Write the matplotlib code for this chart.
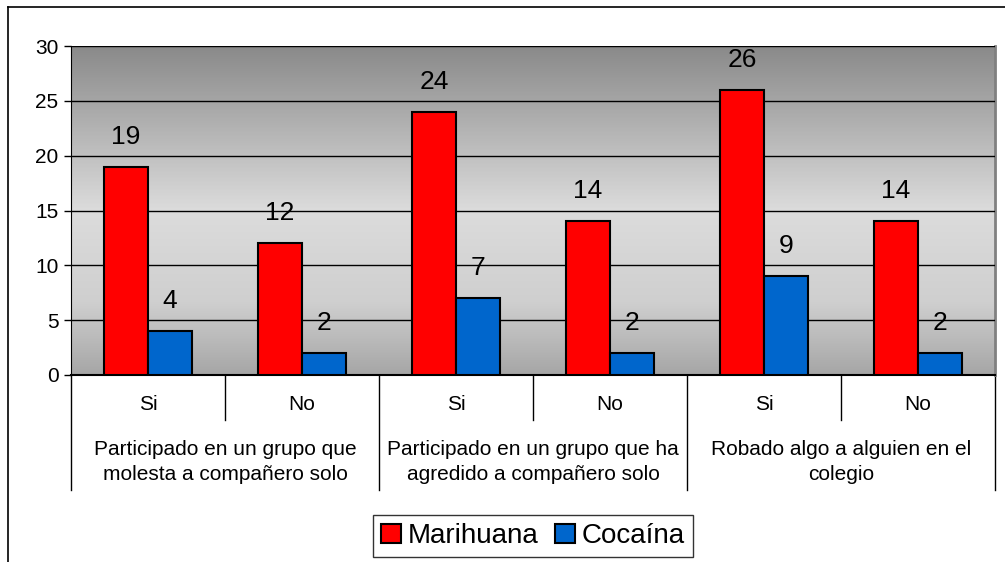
import numpy as np
import matplotlib.pyplot as plt
from matplotlib.lines import Line2D
from matplotlib.colors import LinearSegmentedColormap

plt.rcParams['font.family'] = ['Liberation Sans', 'DejaVu Sans']

# data
sub_labels = ["Si", "No", "Si", "No", "Si", "No"]
group_labels = ["Participado en un grupo que\nmolesta a compañero solo",
                "Participado en un grupo que ha\nagredido a compañero solo",
                "Robado algo a alguien en el\ncolegio"]
marihuana = [19, 12, 24, 14, 26, 14]
cocaina = [4, 2, 7, 2, 9, 2]
series_names = ["Marihuana", "Cocaína"]
colors = ["#ff0000", "#0066cc"]

fig = plt.figure(figsize=(10.05, 5.62), dpi=100)
ax = fig.add_axes([71 / 1005, 1 - 375 / 562, (995 - 71) / 1005, (375 - 46) / 562])

# gradient background
grad = LinearSegmentedColormap.from_list("bg", [(0, "#a6a6a6"), (0.22, "#cfcfcf"),
                                                (0.5, "#dcdcdc"), (1, "#8a8a8a")])
ax.imshow(np.linspace(0, 1, 256).reshape(-1, 1), cmap=grad, aspect="auto",
          extent=[0, 1, 0, 1], transform=ax.transAxes, origin="lower", zorder=0)

x = np.arange(len(sub_labels))
w = 0.285
b1 = ax.bar(x - w / 2, marihuana, w, color=colors[0], edgecolor="black", linewidth=1.5, zorder=3)
b2 = ax.bar(x + w / 2, cocaina, w, color=colors[1], edgecolor="black", linewidth=1.5, zorder=3)
for bars in (b1, b2):
    for r in bars:
        ax.annotate(str(int(r.get_height())), (r.get_x() + r.get_width() / 2, r.get_height()),
                    xytext=(0, 13), textcoords="offset points", ha="center", va="bottom",
                    fontsize=19, zorder=4)

ax.set_xlim(-0.5, len(sub_labels) - 0.5)
ax.set_ylim(0, 30)
ax.set_yticks(range(0, 31, 5))
ax.tick_params(axis="y", labelsize=15, length=5, width=1, direction="out", pad=4)
ax.set_xticks([])
ax.yaxis.grid(True, color="black", linewidth=1)
ax.set_axisbelow(False)
for l in ax.get_ygridlines():
    l.set_zorder(1)
ax.spines["top"].set_visible(False)
ax.spines["right"].set_color("#808080")
ax.spines["right"].set_linewidth(2)
ax.spines["left"].set_color("black")
ax.spines["bottom"].set_linewidth(1.5)

# category axis labels and separators
trans = ax.get_xaxis_transform()
short_end = -(420 - 375) / (375 - 46)
long_end = -(490 - 375) / (375 - 46)
for i, lab in enumerate(sub_labels):
    ax.text(i, -(405 - 375) / (375 - 46), lab, transform=trans, ha="center", va="center", fontsize=15)
for k in range(len(sub_labels) + 1):
    end = long_end if k % 2 == 0 else short_end
    ax.plot([k - 0.5, k - 0.5], [0, end], transform=trans, color="black", linewidth=1, clip_on=False)
for g, lab in enumerate(group_labels):
    ax.text(2 * g + 0.5, -(462 - 375) / (375 - 46), lab, transform=trans, ha="center", va="center",
            fontsize=15, linespacing=1.4)

# outer frame (top and left)
fig.add_artist(Line2D([8 / 1005, 8 / 1005], [0, 1 - 7 / 562], color="black", linewidth=1.2))
fig.add_artist(Line2D([8 / 1005, 1], [1 - 7 / 562, 1 - 7 / 562], color="black", linewidth=1.2))

handles = [plt.Rectangle((0, 0), 1, 1, facecolor=c, edgecolor="black", linewidth=1.5) for c in colors]
leg = fig.legend(handles, series_names, loc="center", bbox_to_anchor=(533 / 1005, 1 - 536 / 562),
                 ncol=2, fontsize=20, frameon=True, fancybox=False, edgecolor="black",
                 handlelength=0.7, handleheight=0.7, handletextpad=0.25, columnspacing=0.6,
                 borderpad=0.3, borderaxespad=0)
leg.get_frame().set_linewidth(1)

fig.savefig("out.png", dpi=100)
